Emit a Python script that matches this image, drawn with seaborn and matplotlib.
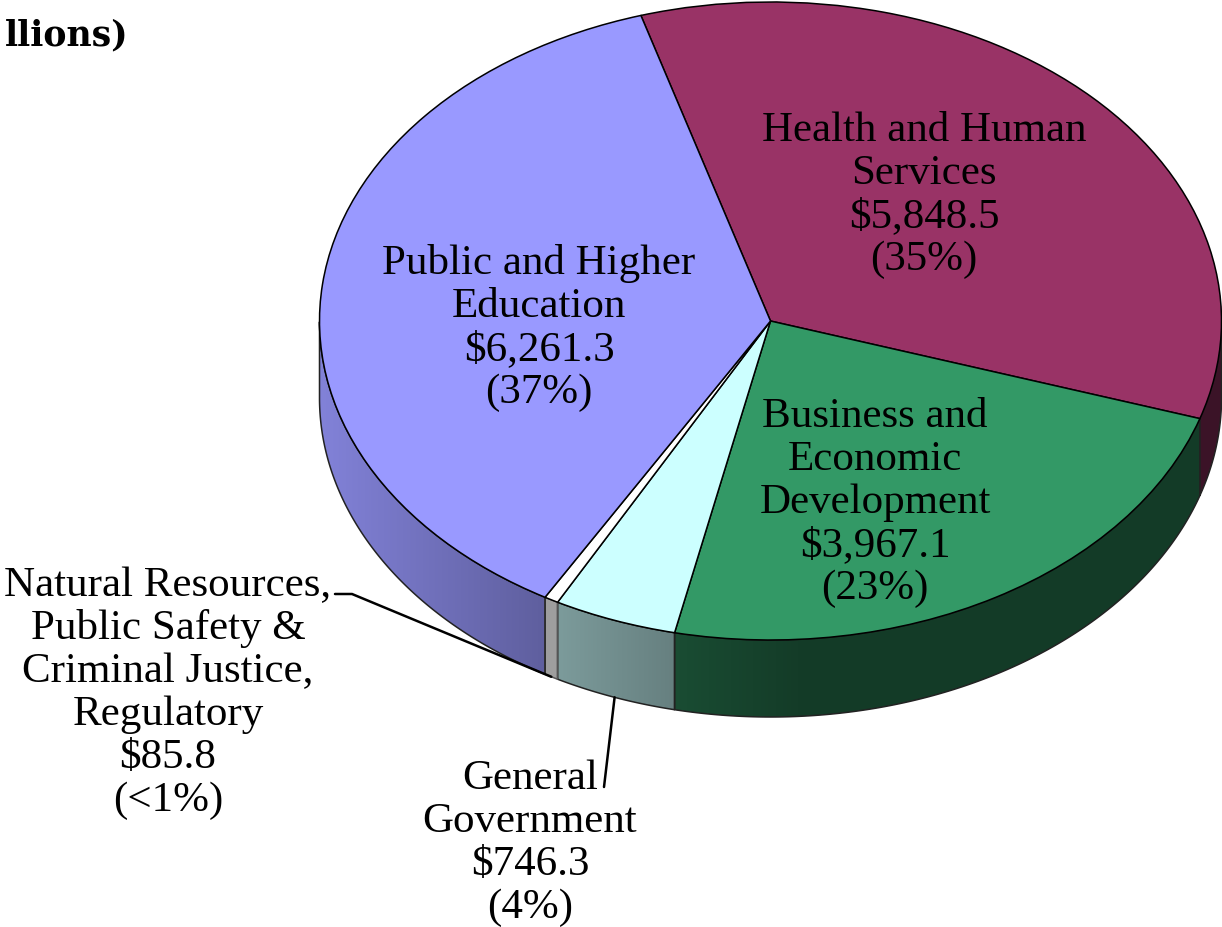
import numpy as np
import matplotlib
matplotlib.use('Agg')
import matplotlib.pyplot as plt
from matplotlib.patches import Polygon
import seaborn as sns

# values in $ millions, clockwise from the top left boundary
categories = ['Health and Human\nServices', 'Business and\nEconomic\nDevelopment', 'General\nGovernment',
              'Natural Resources,\nPublic Safety &\nCriminal Justice,\nRegulatory', 'Public and Higher\nEducation']
values = [5848.5, 3967.1, 746.3, 85.8, 6261.3]
value_labels = ['$5,848.5', '$3,967.1', '$746.3', '$85.8', '$6,261.3']
pct_labels = ['(35%)', '(23%)', '(4%)', '(<1%)', '(37%)']
top_colors = ['#993366', '#339966', '#CCFFFF', '#FFFFFF', '#9999FF']
side_colors = ['#993366', '#339966', '#CCFFFF', '#AAAAAA', '#9999FF']

# pixel layout of the ellipse
W, H = 1222, 927
CX, CY = 770.5, 321
RX, RY = 451, 319
DEPTH = 77 / RY

# side shading: brightness against picture x
SHADE_X = [319, 545, 675, 800, 1222]
SHADE_F = [0.85, 0.62, 0.50, 0.39, 0.39]

# label centres in pixels
label_pos = [(924, 195), (875, 503), (530, 843), (168, 693), (539, 328)]


def to_data(px, py):
    return (px - CX) / RX, (CY - py) / RY


sns.set_theme(style='white')
plt.rcParams['font.family'] = ['Liberation Serif', 'DejaVu Serif']

fig = plt.figure(figsize=(W / 100, H / 100), dpi=100)
ax = fig.add_axes([0, 0, 1, 1])

wedges, _ = ax.pie(values, colors=sns.color_palette(top_colors), startangle=106.7, counterclock=False,
                   radius=1, wedgeprops=dict(edgecolor='black', linewidth=1.1, zorder=5))

# side walls, built from the angles of the pie's wedges
xs = np.arange(W)
shade = np.interp(xs, SHADE_X, SHADE_F)
x0, _ = to_data(0, 0)
x1, _ = to_data(W, 0)
for wedge, color in zip(wedges, side_colors):
    t = np.radians(np.linspace(wedge.theta1, wedge.theta2, 600))
    t = t[np.sin(t) <= 0]
    if len(t) == 0:
        continue
    arc = np.column_stack([np.cos(t), np.sin(t)])
    low = arc - [0, DEPTH]
    poly = Polygon(np.vstack([arc, low[::-1]]), closed=True, facecolor='none',
                   edgecolor='#222222' if color != '#AAAAAA' else '#555555', linewidth=1.1, zorder=3)
    rgb = np.array(matplotlib.colors.to_rgb(color))
    strip = (shade[:, None] * rgb)[None, :, :]
    if color == '#AAAAAA':
        strip = np.ones_like(strip) * 0.62
    im = ax.imshow(strip, extent=[x0, x1, -2, 2], aspect='auto', zorder=2, interpolation='bilinear')
    ax.add_patch(poly)
    im.set_clip_path(poly)

ax.set_aspect('auto')
ax.set_xlim(x0, x1)
ax.set_ylim(to_data(0, H)[1], to_data(0, 0)[1])
ax.axis('off')


def outer_point(wedge):
    mid = np.radians((wedge.theta1 + wedge.theta2) / 2)
    return np.cos(mid), np.sin(mid) - DEPTH


# leader lines run from the outer wall of the two small slices
nx, ny = outer_point(wedges[3])
ex, ey = to_data(352, 594)
sx, sy = to_data(335, 594)
ax.plot([sx, ex, nx], [sy, ey, ny], color='black', lw=1.8, zorder=6, solid_joinstyle='miter')
gx, gy = outer_point(wedges[2])
tx, ty = to_data(604, 787)
ax.plot([gx, tx], [gy, ty], color='black', lw=1.8, zorder=6)

for name, val, pct, (px, py) in zip(categories, value_labels, pct_labels, label_pos):
    lx, ly = to_data(px, py)
    ax.text(lx, ly, f'{name}\n{val}\n{pct}', ha='center', va='center', fontsize=31,
            linespacing=1.15, color='black', zorder=7, parse_math=False)

lx, ly = to_data(128, 35)
ax.text(lx, ly, 'llions)', ha='right', va='center', fontsize=25, fontweight='bold',
        family='DejaVu Serif', color='black')

fig.savefig('out.png', dpi=100)
